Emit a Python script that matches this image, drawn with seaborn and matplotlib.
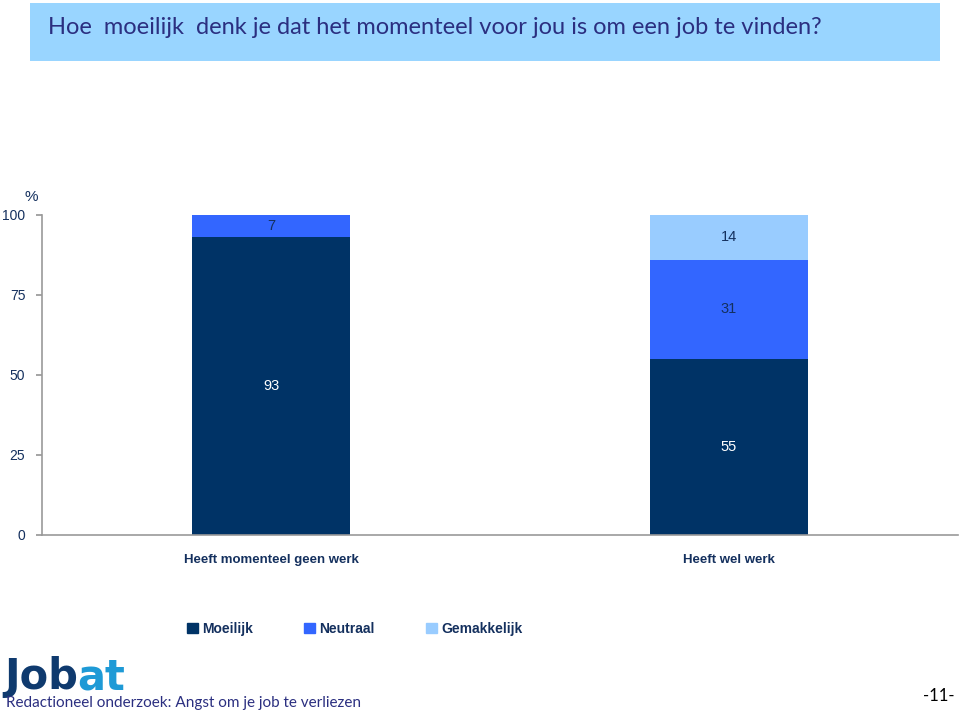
import matplotlib
matplotlib.use("Agg")
import matplotlib.pyplot as plt
import seaborn as sns
import pandas as pd
import numpy as np
from matplotlib.patches import Rectangle

categories = ["Heeft momenteel geen werk", "Heeft wel werk"]
series_names = ["Moeilijk", "Neutraal", "Gemakkelijk"]
moeilijk = [93, 55]
neutraal = [7, 31]
gemakkelijk = [0, 14]
yticks = [0, 25, 50, 75, 100]

colors = {"Moeilijk": "#003366", "Neutraal": "#3366FF", "Gemakkelijk": "#99CCFF"}
label_colors = {"Moeilijk": "white", "Neutraal": "#14305E", "Gemakkelijk": "#14305E"}
navy = "#14305E"

sns.set_theme(style="white")
plt.rcParams["font.family"] = ["Liberation Sans", "DejaVu Sans"]

fig = plt.figure(figsize=(9.6, 7.16), dpi=100)
ax = fig.add_axes([42/960, 1-535/716, 916/960, 320/716])

df = pd.DataFrame({"cat": categories, "Moeilijk": moeilijk,
                   "Neutraal": neutraal, "Gemakkelijk": gemakkelijk})
df["c2"] = df["Moeilijk"] + df["Neutraal"]
df["c3"] = df["c2"] + df["Gemakkelijk"]

bw = 0.345
sns.barplot(data=df, x="cat", y="c3", color=colors["Gemakkelijk"], width=bw,
            ax=ax, saturation=1, linewidth=0, label="Gemakkelijk")
sns.barplot(data=df, x="cat", y="c2", color=colors["Neutraal"], width=bw,
            ax=ax, saturation=1, linewidth=0, label="Neutraal")
sns.barplot(data=df, x="cat", y="Moeilijk", color=colors["Moeilijk"], width=bw,
            ax=ax, saturation=1, linewidth=0, label="Moeilijk")

# value labels
for i in range(len(categories)):
    base = 0
    for s in series_names:
        v = df[s][i]
        if v > 0:
            ax.text(i, base + v/2, f"{v}", ha="center", va="center",
                    fontsize=10.5, color=label_colors[s])
        base += v

ax.set_xlim(-0.5, 1.5)
ax.set_ylim(0, 100)
ax.set_yticks(yticks)
ax.set_yticklabels([str(t) for t in yticks], fontsize=10, color=navy)
ax.set_xlabel("")
ax.set_ylabel("")
ax.set_xticks([0, 1])
ax.set_xticklabels(categories, fontsize=9.5, fontweight="bold", color=navy)
ax.set_xticks([0.5, 1.5], minor=True)
ax.tick_params(axis="x", which="major", direction="out", length=4, color="#999999", pad=10)
ax.tick_params(axis="x", which="minor", direction="in", length=4, color="#999999")
ax.tick_params(axis="y", direction="out", length=4, color="#999999", left=True, pad=8)
for sp in ["top", "right"]:
    ax.spines[sp].set_visible(False)
for sp in ["left", "bottom"]:
    ax.spines[sp].set_color("#999999")
    ax.spines[sp].set_linewidth(1.2)
ax.text(-0.012, 1.035, "%", transform=ax.transAxes, ha="center", va="bottom",
        fontsize=11, color=navy)

if ax.get_legend():
    ax.get_legend().remove()
handles = [Rectangle((0, 0), 1, 1, color=colors[s]) for s in series_names]
fig.legend(handles, series_names, loc="center left", bbox_to_anchor=(174/960, 1-629/716),
           ncol=3, frameon=False, handlelength=0.8, handleheight=0.8,
           handletextpad=0.3, columnspacing=3.7, prop={"weight": "bold", "size": 10})
for t in fig.legends[0].get_texts():
    t.set_color(navy)

# Title box
fig.patches.append(Rectangle((30/960, 1-61/716), 910/960, 58/716, transform=fig.transFigure,
                             facecolor="#99D5FF", edgecolor="none", zorder=0))
fig.text(48/960, 1-27/716, "Hoe  moeilijk  denk je dat het momenteel voor jou is om een job te vinden?",
         ha="left", va="center", fontsize=17, color="#2B2F80", family=["Lato", "DejaVu Sans"])

# Footer logo
t1 = fig.text(4/960, 1-677/716, "Job", ha="left", va="center", fontsize=30, fontweight="heavy",
              color="#0F3A6E", family=["DejaVu Sans"])
fig.canvas.draw()
bb = t1.get_window_extent()
fig.text((bb.x1 - 1) / 960, 1-677/716, "at", ha="left", va="center", fontsize=30,
         fontweight="heavy", color="#1E9AD6", family=["DejaVu Sans"])
fig.text(6/960, 1-703/716, "Redactioneel onderzoek: Angst om je job te verliezen",
         ha="left", va="center", fontsize=11, color="#2B2F80", family=["Lato", "DejaVu Sans"])
fig.text(955/960, 1-696/716, "-11-", ha="right", va="center", fontsize=12,
         color="black", family=["Lato", "DejaVu Sans"])

fig.savefig("out.png", dpi=100)
